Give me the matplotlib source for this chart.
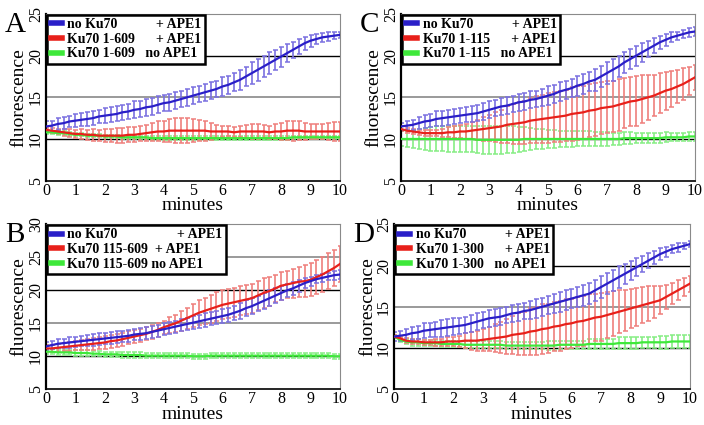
import numpy as np
import matplotlib
matplotlib.use('Agg')
from matplotlib import pyplot as plt

# time points (minutes), one reading every 0.2 min
minutes = np.round(np.arange(0, 10.01, 0.2), 1)

# panel A: Ku70 1-609
a_blue = [11.5, 11.6, 11.8, 11.9, 12.1, 12.2, 12.3, 12.4, 12.5, 12.7,
          12.8, 12.9, 13.0, 13.2, 13.3, 13.5, 13.6, 13.8, 13.9, 14.1,
          14.3, 14.4, 14.6, 14.8, 15.0, 15.2, 15.4, 15.6, 15.8, 16.0,
          16.3, 16.5, 16.8, 17.1, 17.5, 17.9, 18.3, 18.7, 19.1, 19.5,
          19.9, 20.3, 20.7, 21.1, 21.5, 21.8, 22.0, 22.2, 22.3, 22.4, 22.5]
a_blue_err = [0.6, 0.6, 0.7, 0.7, 0.7, 0.8, 0.8, 0.8, 0.8, 0.8,
              0.9, 0.9, 0.9, 0.9, 0.9, 1.0, 1.0, 1.0, 1.0, 1.0,
              1.0, 1.0, 1.0, 1.0, 1.0, 1.0, 1.0, 1.0, 1.0, 1.0,
              1.1, 1.1, 1.1, 1.2, 1.2, 1.3, 1.3, 1.3, 1.3, 1.2,
              1.2, 1.1, 1.0, 0.9, 0.8, 0.7, 0.6, 0.5, 0.5, 0.4, 0.4]
a_red = [11.1, 11.0, 10.9, 10.8, 10.7, 10.6, 10.6, 10.5, 10.5, 10.4,
         10.4, 10.4, 10.4, 10.4, 10.5, 10.5, 10.6, 10.7, 10.8, 10.9,
         10.9, 11.0, 11.0, 11.0, 11.0, 11.0, 11.0, 11.0, 10.9, 10.9,
         10.9, 10.9, 10.8, 10.9, 10.9, 10.9, 10.9, 10.9, 10.8, 10.9,
         10.9, 11.0, 11.0, 11.0, 10.9, 10.9, 10.9, 10.9, 10.9, 10.9, 10.9]
a_red_err = [0.2, 0.3, 0.3, 0.4, 0.5, 0.5, 0.6, 0.6, 0.7, 0.7,
             0.8, 0.8, 0.9, 0.9, 0.9, 0.9, 0.9, 1.0, 1.1, 1.2,
             1.3, 1.4, 1.5, 1.5, 1.5, 1.4, 1.3, 1.2, 1.0, 0.8,
             0.7, 0.6, 0.6, 0.7, 0.8, 0.9, 0.9, 0.8, 0.8, 0.9,
             1.0, 1.1, 1.2, 1.1, 1.0, 0.9, 0.9, 0.9, 1.0, 1.1, 1.1]
a_green = [10.8, 10.8, 10.7, 10.7, 10.6, 10.5, 10.5, 10.4, 10.4, 10.4,
           10.3, 10.3, 10.3, 10.2, 10.2, 10.2, 10.2, 10.2, 10.1, 10.1,
           10.1, 10.1, 10.1, 10.1, 10.1, 10.1, 10.1, 10.1, 10.1, 10.1,
           10.1, 10.1, 10.1, 10.1, 10.1, 10.1, 10.1, 10.1, 10.1, 10.1,
           10.1, 10.1, 10.2, 10.2, 10.2, 10.2, 10.2, 10.2, 10.2, 10.2, 10.2]
a_green_err = [0.2, 0.2, 0.2, 0.2, 0.2, 0.2, 0.2, 0.2, 0.2, 0.2,
               0.2, 0.2, 0.2, 0.2, 0.2, 0.2, 0.2, 0.2, 0.2, 0.2,
               0.2, 0.2, 0.2, 0.2, 0.2, 0.2, 0.2, 0.2, 0.2, 0.2,
               0.2, 0.2, 0.2, 0.2, 0.2, 0.2, 0.2, 0.2, 0.2, 0.2,
               0.2, 0.2, 0.2, 0.2, 0.2, 0.2, 0.2, 0.2, 0.2, 0.2, 0.2]

# panel B: Ku70 115-609
b_blue = [11.5, 11.7, 11.9, 12.0, 12.1, 12.2, 12.3, 12.4, 12.5, 12.6,
          12.7, 12.8, 12.9, 13.0, 13.1, 13.3, 13.4, 13.5, 13.7, 13.9,
          14.1, 14.3, 14.5, 14.7, 14.9, 15.1, 15.3, 15.5, 15.7, 15.9,
          16.1, 16.3, 16.6, 16.9, 17.3, 17.6, 18.0, 18.4, 18.8, 19.2,
          19.6, 20.0, 20.3, 20.7, 21.1, 21.4, 21.7, 21.9, 22.1, 22.3, 22.4]
b_blue_err = [0.6, 0.6, 0.7, 0.7, 0.8, 0.8, 0.8, 0.8, 0.9, 0.9,
              0.9, 0.9, 0.9, 0.9, 0.9, 0.9, 0.9, 0.9, 0.9, 0.9,
              0.9, 0.9, 0.9, 0.9, 0.9, 1.0, 1.0, 1.0, 1.0, 1.0,
              1.1, 1.1, 1.1, 1.2, 1.2, 1.2, 1.2, 1.2, 1.2, 1.1,
              1.1, 1.0, 1.0, 0.9, 0.8, 0.7, 0.6, 0.6, 0.6, 0.7, 0.7]
b_red = [11.2, 11.2, 11.3, 11.4, 11.5, 11.6, 11.7, 11.8, 11.9, 12.0,
         12.1, 12.3, 12.4, 12.6, 12.8, 13.0, 13.2, 13.4, 13.7, 14.0,
         14.4, 14.7, 15.0, 15.4, 15.8, 16.2, 16.6, 16.9, 17.2, 17.5,
         17.8, 18.0, 18.2, 18.4, 18.6, 18.8, 19.2, 19.6, 19.9, 20.3,
         20.7, 20.9, 21.1, 21.3, 21.4, 21.6, 22.0, 22.4, 22.9, 23.4, 24.0]
b_red_err = [0.5, 0.5, 0.6, 0.6, 0.7, 0.7, 0.8, 0.8, 0.9, 0.9,
             1.0, 1.0, 1.0, 1.0, 1.0, 1.0, 1.0, 1.0, 1.0, 1.0,
             1.0, 1.2, 1.3, 1.5, 1.6, 1.8, 1.9, 2.0, 2.1, 2.2,
             2.2, 2.2, 2.2, 2.2, 2.2, 2.2, 2.2, 2.2, 2.2, 2.1,
             2.1, 2.1, 2.2, 2.3, 2.4, 2.5, 2.6, 2.7, 2.7, 2.7, 2.7]
b_green = [10.7, 10.7, 10.6, 10.6, 10.6, 10.5, 10.5, 10.5, 10.4, 10.4,
           10.3, 10.3, 10.3, 10.2, 10.2, 10.2, 10.2, 10.1, 10.1, 10.1,
           10.1, 10.1, 10.1, 10.1, 10.1, 10.0, 10.0, 10.0, 10.1, 10.1,
           10.1, 10.1, 10.1, 10.1, 10.1, 10.1, 10.1, 10.1, 10.1, 10.1,
           10.1, 10.1, 10.1, 10.1, 10.1, 10.1, 10.1, 10.1, 10.1, 10.0, 10.0]
b_green_err = [0.4, 0.4, 0.4, 0.4, 0.4, 0.4, 0.4, 0.4, 0.4, 0.4,
               0.4, 0.4, 0.4, 0.4, 0.4, 0.4, 0.4, 0.4, 0.4, 0.4,
               0.4, 0.4, 0.4, 0.4, 0.4, 0.4, 0.4, 0.4, 0.4, 0.4,
               0.4, 0.4, 0.4, 0.4, 0.4, 0.4, 0.4, 0.4, 0.4, 0.4,
               0.4, 0.4, 0.4, 0.4, 0.4, 0.4, 0.4, 0.4, 0.4, 0.4, 0.4]

# panel C: Ku70 1-115
c_blue = [11.5, 11.6, 11.7, 11.9, 12.1, 12.2, 12.4, 12.5, 12.6, 12.7,
          12.8, 12.9, 13.0, 13.1, 13.3, 13.5, 13.7, 13.9, 14.0, 14.2,
          14.4, 14.5, 14.7, 14.8, 15.0, 15.2, 15.4, 15.7, 15.9, 16.1,
          16.4, 16.6, 16.9, 17.1, 17.5, 17.9, 18.3, 18.7, 19.2, 19.6,
          20.0, 20.4, 20.8, 21.2, 21.6, 21.9, 22.2, 22.4, 22.6, 22.8, 22.9]
c_blue_err = [0.4, 0.5, 0.6, 0.7, 0.8, 0.8, 0.9, 0.9, 0.9, 0.9,
              0.9, 0.9, 1.0, 1.0, 1.0, 1.0, 1.0, 1.0, 1.0, 1.0,
              1.0, 1.0, 1.0, 1.0, 1.0, 1.1, 1.1, 1.1, 1.1, 1.1,
              1.2, 1.2, 1.2, 1.3, 1.3, 1.3, 1.3, 1.3, 1.3, 1.2,
              1.2, 1.1, 1.0, 0.9, 0.8, 0.7, 0.6, 0.5, 0.5, 0.5, 0.5]
c_red = [11.2, 11.0, 10.9, 10.8, 10.7, 10.7, 10.7, 10.7, 10.8, 10.8,
         10.9, 10.9, 11.0, 11.1, 11.2, 11.3, 11.4, 11.5, 11.7, 11.8,
         11.9, 12.0, 12.2, 12.3, 12.4, 12.5, 12.6, 12.7, 12.8, 13.0,
         13.1, 13.2, 13.4, 13.5, 13.7, 13.8, 13.9, 14.1, 14.3, 14.5,
         14.6, 14.8, 15.0, 15.2, 15.5, 15.8, 16.0, 16.3, 16.6, 17.0, 17.4]
c_red_err = [0.3, 0.3, 0.3, 0.3, 0.4, 0.4, 0.4, 0.5, 0.6, 0.7,
             0.8, 0.9, 1.0, 1.2, 1.4, 1.6, 1.8, 2.0, 2.2, 2.4,
             2.5, 2.6, 2.7, 2.8, 2.9, 3.0, 3.0, 3.1, 3.1, 3.2,
             3.2, 3.2, 3.2, 3.2, 3.1, 3.1, 3.1, 3.1, 3.0, 3.0,
             3.0, 2.9, 2.7, 2.5, 2.4, 2.3, 2.2, 2.0, 1.9, 1.7, 1.5]
c_green = [10.0, 10.0, 10.0, 10.0, 10.0, 10.0, 10.0, 10.0, 10.0, 10.0,
           10.0, 10.0, 10.0, 9.9, 9.9, 9.9, 9.9, 9.9, 9.9, 9.9,
           9.9, 10.0, 10.0, 10.0, 10.0, 10.0, 10.0, 10.0, 10.0, 10.0,
           10.0, 10.0, 10.0, 10.0, 10.0, 10.0, 10.0, 10.0, 10.1, 10.1,
           10.1, 10.1, 10.1, 10.1, 10.1, 10.2, 10.2, 10.2, 10.2, 10.3, 10.3]
c_green_err = [0.9, 1.0, 1.1, 1.2, 1.3, 1.4, 1.5, 1.5, 1.6, 1.6,
               1.6, 1.6, 1.6, 1.6, 1.7, 1.7, 1.7, 1.7, 1.6, 1.6,
               1.5, 1.4, 1.3, 1.2, 1.2, 1.1, 1.1, 1.0, 1.0, 1.0,
               0.9, 0.9, 0.9, 0.8, 0.8, 0.8, 0.7, 0.7, 0.7, 0.7,
               0.6, 0.6, 0.6, 0.6, 0.6, 0.6, 0.5, 0.5, 0.5, 0.5, 0.5]

# panel D: Ku70 1-300
d_blue = [11.4, 11.5, 11.6, 11.8, 11.9, 12.1, 12.2, 12.3, 12.4, 12.5,
          12.6, 12.7, 12.8, 13.0, 13.2, 13.4, 13.6, 13.7, 13.8, 14.0,
          14.2, 14.3, 14.5, 14.6, 14.8, 15.0, 15.2, 15.4, 15.6, 15.8,
          16.0, 16.2, 16.4, 16.6, 17.0, 17.4, 17.8, 18.2, 18.6, 19.0,
          19.4, 19.8, 20.2, 20.6, 21.0, 21.4, 21.7, 22.0, 22.2, 22.4, 22.6]
d_blue_err = [0.5, 0.6, 0.7, 0.8, 0.8, 0.9, 0.9, 0.9, 1.0, 1.0,
              1.0, 1.0, 1.0, 1.0, 1.0, 1.0, 1.0, 1.0, 1.0, 1.0,
              1.0, 1.0, 1.0, 1.1, 1.1, 1.1, 1.1, 1.1, 1.2, 1.2,
              1.2, 1.2, 1.3, 1.3, 1.3, 1.3, 1.3, 1.3, 1.3, 1.2,
              1.2, 1.1, 1.0, 0.9, 0.8, 0.7, 0.6, 0.5, 0.5, 0.4, 0.4]
d_red = [11.4, 11.2, 10.9, 10.8, 10.8, 10.7, 10.7, 10.7, 10.7, 10.8,
         10.8, 10.8, 10.9, 10.9, 10.9, 11.0, 11.1, 11.2, 11.3, 11.4,
         11.6, 11.7, 11.8, 12.0, 12.1, 12.3, 12.4, 12.6, 12.7, 12.9,
         13.0, 13.2, 13.3, 13.5, 13.7, 13.8, 14.0, 14.2, 14.4, 14.6,
         14.8, 15.0, 15.2, 15.4, 15.6, 15.8, 16.2, 16.6, 17.0, 17.4, 17.8]
d_red_err = [0.2, 0.2, 0.3, 0.3, 0.3, 0.3, 0.3, 0.4, 0.4, 0.5,
             0.6, 0.7, 0.9, 1.1, 1.2, 1.3, 1.5, 1.7, 1.9, 2.1,
             2.3, 2.5, 2.6, 2.8, 2.9, 3.0, 3.0, 3.0, 3.0, 3.0,
             3.0, 3.0, 3.0, 3.0, 2.9, 2.9, 2.8, 2.7, 2.6, 2.5,
             2.4, 2.3, 2.2, 2.1, 1.9, 1.7, 1.5, 1.3, 1.2, 1.1, 1.0]
d_green = [11.4, 11.0, 10.8, 10.7, 10.7, 10.6, 10.6, 10.6, 10.5, 10.5,
           10.5, 10.5, 10.4, 10.4, 10.4, 10.4, 10.4, 10.4, 10.4, 10.3,
           10.3, 10.3, 10.3, 10.3, 10.3, 10.3, 10.3, 10.3, 10.4, 10.4,
           10.4, 10.4, 10.4, 10.5, 10.5, 10.5, 10.5, 10.5, 10.6, 10.6,
           10.6, 10.6, 10.7, 10.7, 10.7, 10.7, 10.7, 10.8, 10.8, 10.8, 10.8]
d_green_err = [0.2, 0.3, 0.3, 0.4, 0.4, 0.4, 0.4, 0.4, 0.4, 0.4,
               0.4, 0.4, 0.4, 0.4, 0.4, 0.4, 0.4, 0.4, 0.4, 0.4,
               0.4, 0.4, 0.4, 0.4, 0.4, 0.4, 0.5, 0.5, 0.5, 0.5,
               0.5, 0.5, 0.5, 0.6, 0.6, 0.6, 0.6, 0.6, 0.7, 0.7,
               0.7, 0.7, 0.7, 0.7, 0.7, 0.8, 0.8, 0.8, 0.8, 0.8, 0.8]

labels_a = ['no Ku70           + APE1', 'Ku70 1-609      + APE1', 'Ku70 1-609   no APE1']
labels_b = ['no Ku70                 + APE1', 'Ku70 115-609  + APE1', 'Ku70 115-609 no APE1']
labels_c = ['no Ku70           + APE1', 'Ku70 1-115      + APE1', 'Ku70 1-115   no APE1']
labels_d = ['no Ku70           + APE1', 'Ku70 1-300      + APE1', 'Ku70 1-300   no APE1']

panels = [
    ('A', [0.0653, 0.575, 0.4176, 0.392], (5, 25), labels_a,
     [(a_blue, a_blue_err), (a_red, a_red_err), (a_green, a_green_err)]),
    ('C', [0.5696, 0.575, 0.4176, 0.392], (5, 25), labels_c,
     [(c_blue, c_blue_err), (c_red, c_red_err), (c_green, c_green_err)]),
    ('B', [0.0653, 0.084, 0.4176, 0.388], (5, 30), labels_b,
     [(b_blue, b_blue_err), (b_red, b_red_err), (b_green, b_green_err)]),
    ('D', [0.5597, 0.084, 0.4200, 0.388], (5, 25), labels_d,
     [(d_blue, d_blue_err), (d_red, d_red_err), (d_green, d_green_err)]),
]

line_colors = ['#2a1fc8', '#e8201a', '#3ee83a']
bar_colors = ['#7a70e0', '#ef7f7c', '#86ee84']
cap_colors = ['#241a98', '#b01812', '#2cba2c']

plt.rcParams['font.family'] = ['Liberation Serif', 'DejaVu Serif']
fig = plt.figure(figsize=(7.04, 4.25), dpi=100)

for letter, pos, ylim, labels, series in panels:
    ax = fig.add_axes(pos)
    for yv in range(ylim[0] + 5, ylim[1], 5):
        ax.axhline(yv, color='black' if yv % 10 == 0 else '#9a9a9a',
                   lw=1.0 if yv % 10 == 0 else 1.4, zorder=0)
    # error bars first, lines on top
    for k in [2, 1, 0]:
        mean, err = series[k]
        _, caps, bars = ax.errorbar(minutes, mean, yerr=err, fmt='none',
                                    ecolor=bar_colors[k], elinewidth=1.2,
                                    capsize=1.8, capthick=1.1, zorder=1)
        for c in caps:
            c.set_color(cap_colors[k])
    handles = []
    for k in [2, 1, 0]:
        mean = series[k][0]
        h, = ax.plot(minutes, mean, color=line_colors[k], lw=1.6, zorder=3)
        handles.append(h)
    ax.set_xlim(0, 10)
    ax.set_ylim(*ylim)
    ax.set_xticks(range(0, 11))
    ax.set_yticks(range(ylim[0], ylim[1] + 1, 5))
    ax.tick_params(length=0, labelsize=11.5, pad=1.5)
    for t in ax.get_yticklabels():
        t.set_rotation(90)
        t.set_va('center')
    ax.spines['left'].set_linewidth(1.6)
    ax.spines['bottom'].set_linewidth(1.2)
    ax.spines['top'].set_color('#8a8a8a')
    ax.spines['right'].set_color('#8a8a8a')
    ax.set_xlabel('minutes', fontsize=14, labelpad=-1)
    ax.set_ylabel('fluorescence', fontsize=14, labelpad=0)
    leg = ax.legend(handles[::-1], labels, loc='upper left',
                    bbox_to_anchor=(0.0, 1.005), fancybox=False,
                    edgecolor='black', framealpha=1,
                    prop={'weight': 'bold', 'size': 10},
                    handlelength=0.8, handletextpad=0.4, labelspacing=0.12,
                    borderpad=0.25, borderaxespad=0.1)
    leg.get_frame().set_linewidth(1.8)
    for lh in leg.get_lines():
        lh.set_linewidth(4)
    fig.text(pos[0] - 0.058, pos[1] + pos[3] + 0.005, letter, fontsize=21,
             va='top', ha='left')

fig.savefig('out.png', dpi=100)
